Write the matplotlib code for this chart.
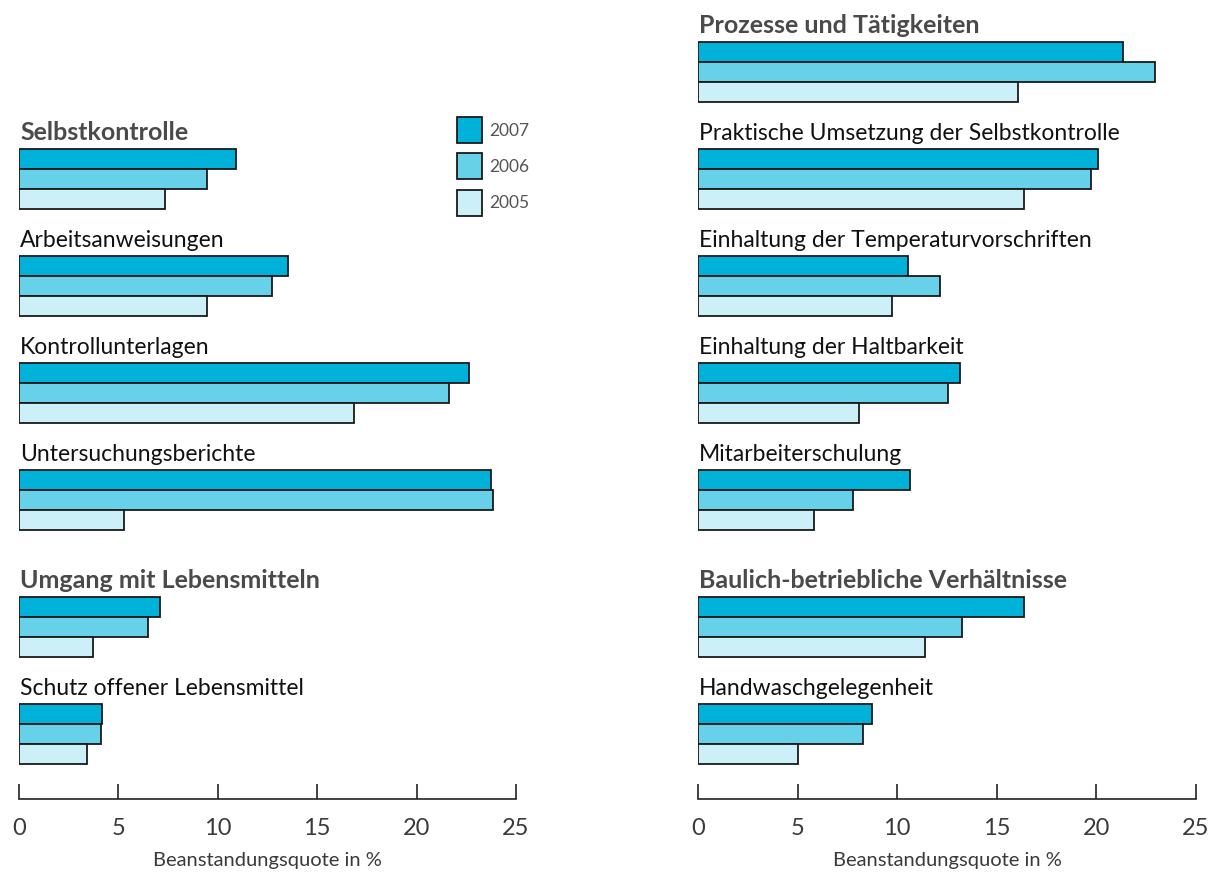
import matplotlib
matplotlib.use("Agg")
import matplotlib.pyplot as plt
import numpy as np

# Beanstandungsquote in % je Kategorie, Jahre 2007 / 2006 / 2005
years = ["2007", "2006", "2005"]
colors = ["#00b1d9", "#66d1e9", "#ccf0f8"]

left_labels = ["Selbstkontrolle", "Arbeitsanweisungen", "Kontrollunterlagen",
               "Untersuchungsberichte", "Umgang mit Lebensmitteln",
               "Schutz offener Lebensmittel"]
left_bold = [True, False, False, False, True, False]
left_2007 = [10.9, 13.55, 22.65, 23.75, 7.1, 4.2]
left_2006 = [9.45, 12.75, 21.65, 23.85, 6.5, 4.1]
left_2005 = [7.35, 9.45, 16.85, 5.3, 3.7, 3.4]

right_labels = ["Prozesse und Tätigkeiten", "Praktische Umsetzung der Selbstkontrolle",
                "Einhaltung der Temperaturvorschriften", "Einhaltung der Haltbarkeit",
                "Mitarbeiterschulung", "Baulich-betriebliche Verhältnisse",
                "Handwaschgelegenheit"]
right_bold = [True, False, False, False, False, True, False]
right_2007 = [21.35, 20.1, 10.55, 13.15, 10.65, 16.35, 8.75]
right_2006 = [22.95, 19.75, 12.15, 12.55, 7.8, 13.25, 8.3]
right_2005 = [16.05, 16.35, 9.75, 8.1, 5.8, 11.4, 5.0]

xticks = [0, 5, 10, 15, 20, 25]
xlabel = "Beanstandungsquote in %"

W, H = 1217, 877
fig = plt.figure(figsize=(W / 100, H / 100), dpi=100)

AXIS_Y = 799          # pixel row of the x axis line
BAR_H = 20            # bar thickness in px
PITCH = 107           # distance between groups in px
FIRST = 42            # top of first group (right panel)
GAP = 20              # extra space before second section


def group_top(slot):
    return FIRST + PITCH * slot + (GAP if slot >= 5 else 0)


def panel(x0, x1, labels, bold, v07, v06, v05, first_slot):
    ax = fig.add_axes([x0 / W, (H - AXIS_Y) / H, (x1 - x0) / W, AXIS_Y / H])
    ax.set_xlim(0, 25)
    ax.set_ylim(AXIS_Y, 0)
    tops = np.array([group_top(first_slot + i) for i in range(len(labels))])
    bars = []
    for k, vals in enumerate([v07, v06, v05]):
        b = ax.barh(tops + BAR_H * k + BAR_H / 2, vals, height=BAR_H,
                    color=colors[k], edgecolor="#1a1a1a", linewidth=1.3,
                    label=years[k], zorder=3)
        bars.append(b)
    for t, lab, b in zip(tops, labels, bold):
        if b:
            ax.text(0.05, t - 9, lab, fontsize=18, fontweight="bold",
                    color="#4a4a4a", family="Lato", va="baseline")
        else:
            ax.text(0.05, t - 9, lab, fontsize=16.5, color="#111111",
                    family="Lato", va="baseline")
    for s in ["top", "right", "left"]:
        ax.spines[s].set_visible(False)
    ax.spines["bottom"].set_linewidth(1.2)
    ax.spines["bottom"].set_color("#222222")
    ax.set_yticks([])
    ax.set_xticks(xticks)
    ax.tick_params(axis="x", direction="in", length=11, width=1.2,
                   color="#222222", pad=14, labelsize=17, labelcolor="#3a3a3a")
    for lbl in ax.get_xticklabels():
        lbl.set_family("Lato")
    ax.set_xlabel(xlabel, fontsize=14.5, family="Lato",
                  color="#3a3a3a", labelpad=9)
    ax.set_facecolor("none")
    return ax, bars


axl, bars_l = panel(19, 516, left_labels, left_bold, left_2007, left_2006, left_2005, 1)
axr, bars_r = panel(698, 1196, right_labels, right_bold, right_2007, right_2006, right_2005, 0)

fig.legend(handles=bars_l, labels=years, loc="upper left",
           bbox_to_anchor=(457 / W, 1 - 117 / H), frameon=False, borderpad=0,
           borderaxespad=0, handlelength=1.45, handleheight=1.93, labelspacing=0.6,
           handletextpad=0.4, prop={"family": "Lato", "size": 12.5},
           labelcolor="#555555")

fig.savefig("out.png", dpi=100)
